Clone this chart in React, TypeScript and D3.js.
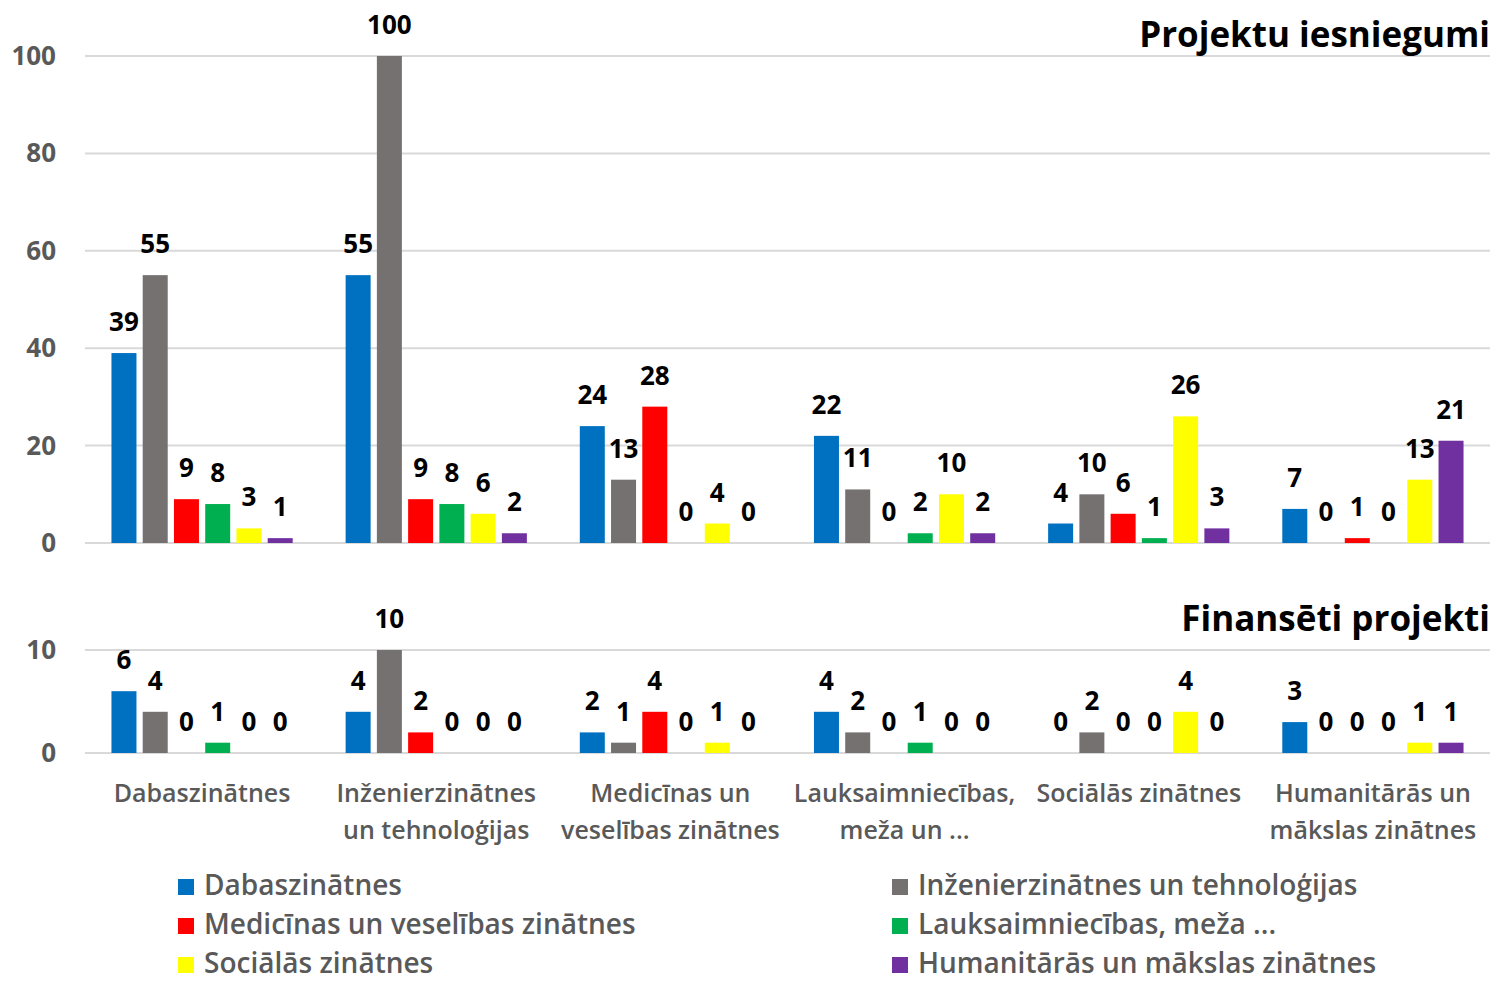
import React, { useEffect, useRef } from 'react';
import * as d3 from 'd3';

const categories = ['Dabaszinātnes', 'Inženierzinātnes un tehnoloģijas', 'Medicīnas un veselības zinātnes', 'Lauksaimniecības, meža un ...', 'Sociālās zinātnes', 'Humanitārās un mākslas zinātnes'];
const categoryLines = [['Dabaszinātnes'], ['Inženierzinātnes', 'un tehnoloģijas'], ['Medicīnas un', 'veselības zinātnes'], ['Lauksaimniecības,', 'meža un ...'], ['Sociālās zinātnes'], ['Humanitārās un', 'mākslas zinātnes']];
const seriesNames = ['Dabaszinātnes', 'Inženierzinātnes un tehnoloģijas', 'Medicīnas un veselības zinātnes', 'Lauksaimniecības, meža ...', 'Sociālās zinātnes', 'Humanitārās un mākslas zinātnes'];
const colors = ['#0070C0', '#767171', '#FF0000', '#00B050', '#FFFF00', '#7030A0'];

// rows = category groups, columns = series
const submitted = [
    [39, 55, 9, 8, 3, 1],
    [55, 100, 9, 8, 6, 2],
    [24, 13, 28, 0, 4, 0],
    [22, 11, 0, 2, 10, 2],
    [4, 10, 6, 1, 26, 3],
    [7, 0, 1, 0, 13, 21]
];
const funded = [
    [6, 4, 0, 1, 0, 0],
    [4, 10, 2, 0, 0, 0],
    [2, 1, 4, 0, 1, 0],
    [4, 2, 0, 1, 0, 0],
    [0, 2, 0, 0, 4, 0],
    [3, 0, 0, 0, 1, 1]
];
const topTicks = [0, 20, 40, 60, 80, 100];
const bottomTicks = [0, 10];

const FONT = '"Open Sans", Lato, sans-serif';
const GREY = '#595959';

export default function App() {
    const ref = useRef<SVGSVGElement>(null);

    useEffect(() => {
        document.body.style.margin = '0';
        const svg = d3.select(ref.current);
        svg.selectAll('*').remove();

        const x0 = d3.scaleBand<number>().domain(d3.range(categories.length)).range([85, 1490]).paddingInner(0.226).paddingOuter(0.113);
        const x1 = d3.scaleBand<number>().domain(d3.range(seriesNames.length)).range([0, x0.bandwidth()]).paddingInner(0.2);

        const drawPanel = (data: number[][], y: d3.ScaleLinear<number, number>, ticks: number[], title: string, titleY: number) => {
            const g = svg.append('g');

            g.selectAll('.grid')
                .data(ticks)
                .enter()
                .append('line')
                .attr('x1', 85)
                .attr('x2', 1490)
                .attr('y1', d => y(d))
                .attr('y2', d => y(d))
                .attr('stroke', '#D9D9D9')
                .attr('stroke-width', 2);

            g.selectAll('.tick')
                .data(ticks)
                .enter()
                .append('text')
                .attr('x', 56)
                .attr('y', d => y(d) + 9)
                .attr('text-anchor', 'end')
                .attr('fill', GREY)
                .style('font-family', FONT)
                .style('font-weight', 'bold')
                .style('font-size', '26px')
                .text(d => d);

            const groups = g.selectAll('.grp')
                .data(data)
                .enter()
                .append('g')
                .attr('transform', (d, i) => 'translate(' + x0(i) + ',0)');

            groups.selectAll('rect')
                .data(d => d)
                .enter()
                .append('rect')
                .attr('x', (d, i) => x1(i)!)
                .attr('width', x1.bandwidth())
                .attr('y', d => y(d))
                .attr('height', d => y(0) - y(d))
                .attr('fill', (d, i) => colors[i]);

            groups.selectAll('text')
                .data(d => d)
                .enter()
                .append('text')
                .attr('x', (d, i) => x1(i)! + x1.bandwidth() / 2)
                .attr('y', d => y(d) - 22)
                .attr('text-anchor', 'middle')
                .attr('fill', '#000')
                .style('font-family', FONT)
                .style('font-weight', 'bold')
                .style('font-size', '26px')
                .text(d => d);

            g.append('text')
                .attr('x', 1490)
                .attr('y', titleY)
                .attr('text-anchor', 'end')
                .attr('fill', '#000')
                .style('font-family', FONT)
                .style('font-weight', 'bold')
                .style('font-size', '35px')
                .text(title);
        };

        drawPanel(submitted, d3.scaleLinear().domain([0, 100]).range([543, 56]), topTicks, 'Projektu iesniegumi', 47);
        drawPanel(funded, d3.scaleLinear().domain([0, 10]).range([753, 650]), bottomTicks, 'Finansēti projekti', 631);

        // category labels
        const cat = svg.append('g');
        categoryLines.forEach((lines, i) => {
            lines.forEach((line, j) => {
                cat.append('text')
                    .attr('x', x0(i)! + x0.bandwidth() / 2)
                    .attr('y', 802 + j * 37)
                    .attr('text-anchor', 'middle')
                    .attr('fill', GREY)
                    .style('font-family', FONT)
                    .style('font-weight', 600)
                    .style('font-size', '25px')
                    .text(line);
            });
        });

        // legend, two columns
        const legend = svg.append('g');
        const items = legend.selectAll('.item')
            .data(seriesNames)
            .enter()
            .append('g')
            .attr('transform', (d, i) => 'translate(' + (i % 2 === 0 ? 178 : 892) + ',' + (886 + Math.floor(i / 2) * 39) + ')');
        items.append('rect')
            .attr('x', 0)
            .attr('y', -7)
            .attr('width', 16)
            .attr('height', 16)
            .attr('fill', (d, i) => colors[i]);
        items.append('text')
            .attr('x', 26)
            .attr('y', 9)
            .attr('fill', GREY)
            .style('font-family', FONT)
            .style('font-weight', 600)
            .style('font-size', '28px')
            .text(d => d);
    }, []);

    return (
        <svg ref={ref} width={1490} height={981} style={{ display: 'block', background: '#fff' }}></svg>
    );
}
